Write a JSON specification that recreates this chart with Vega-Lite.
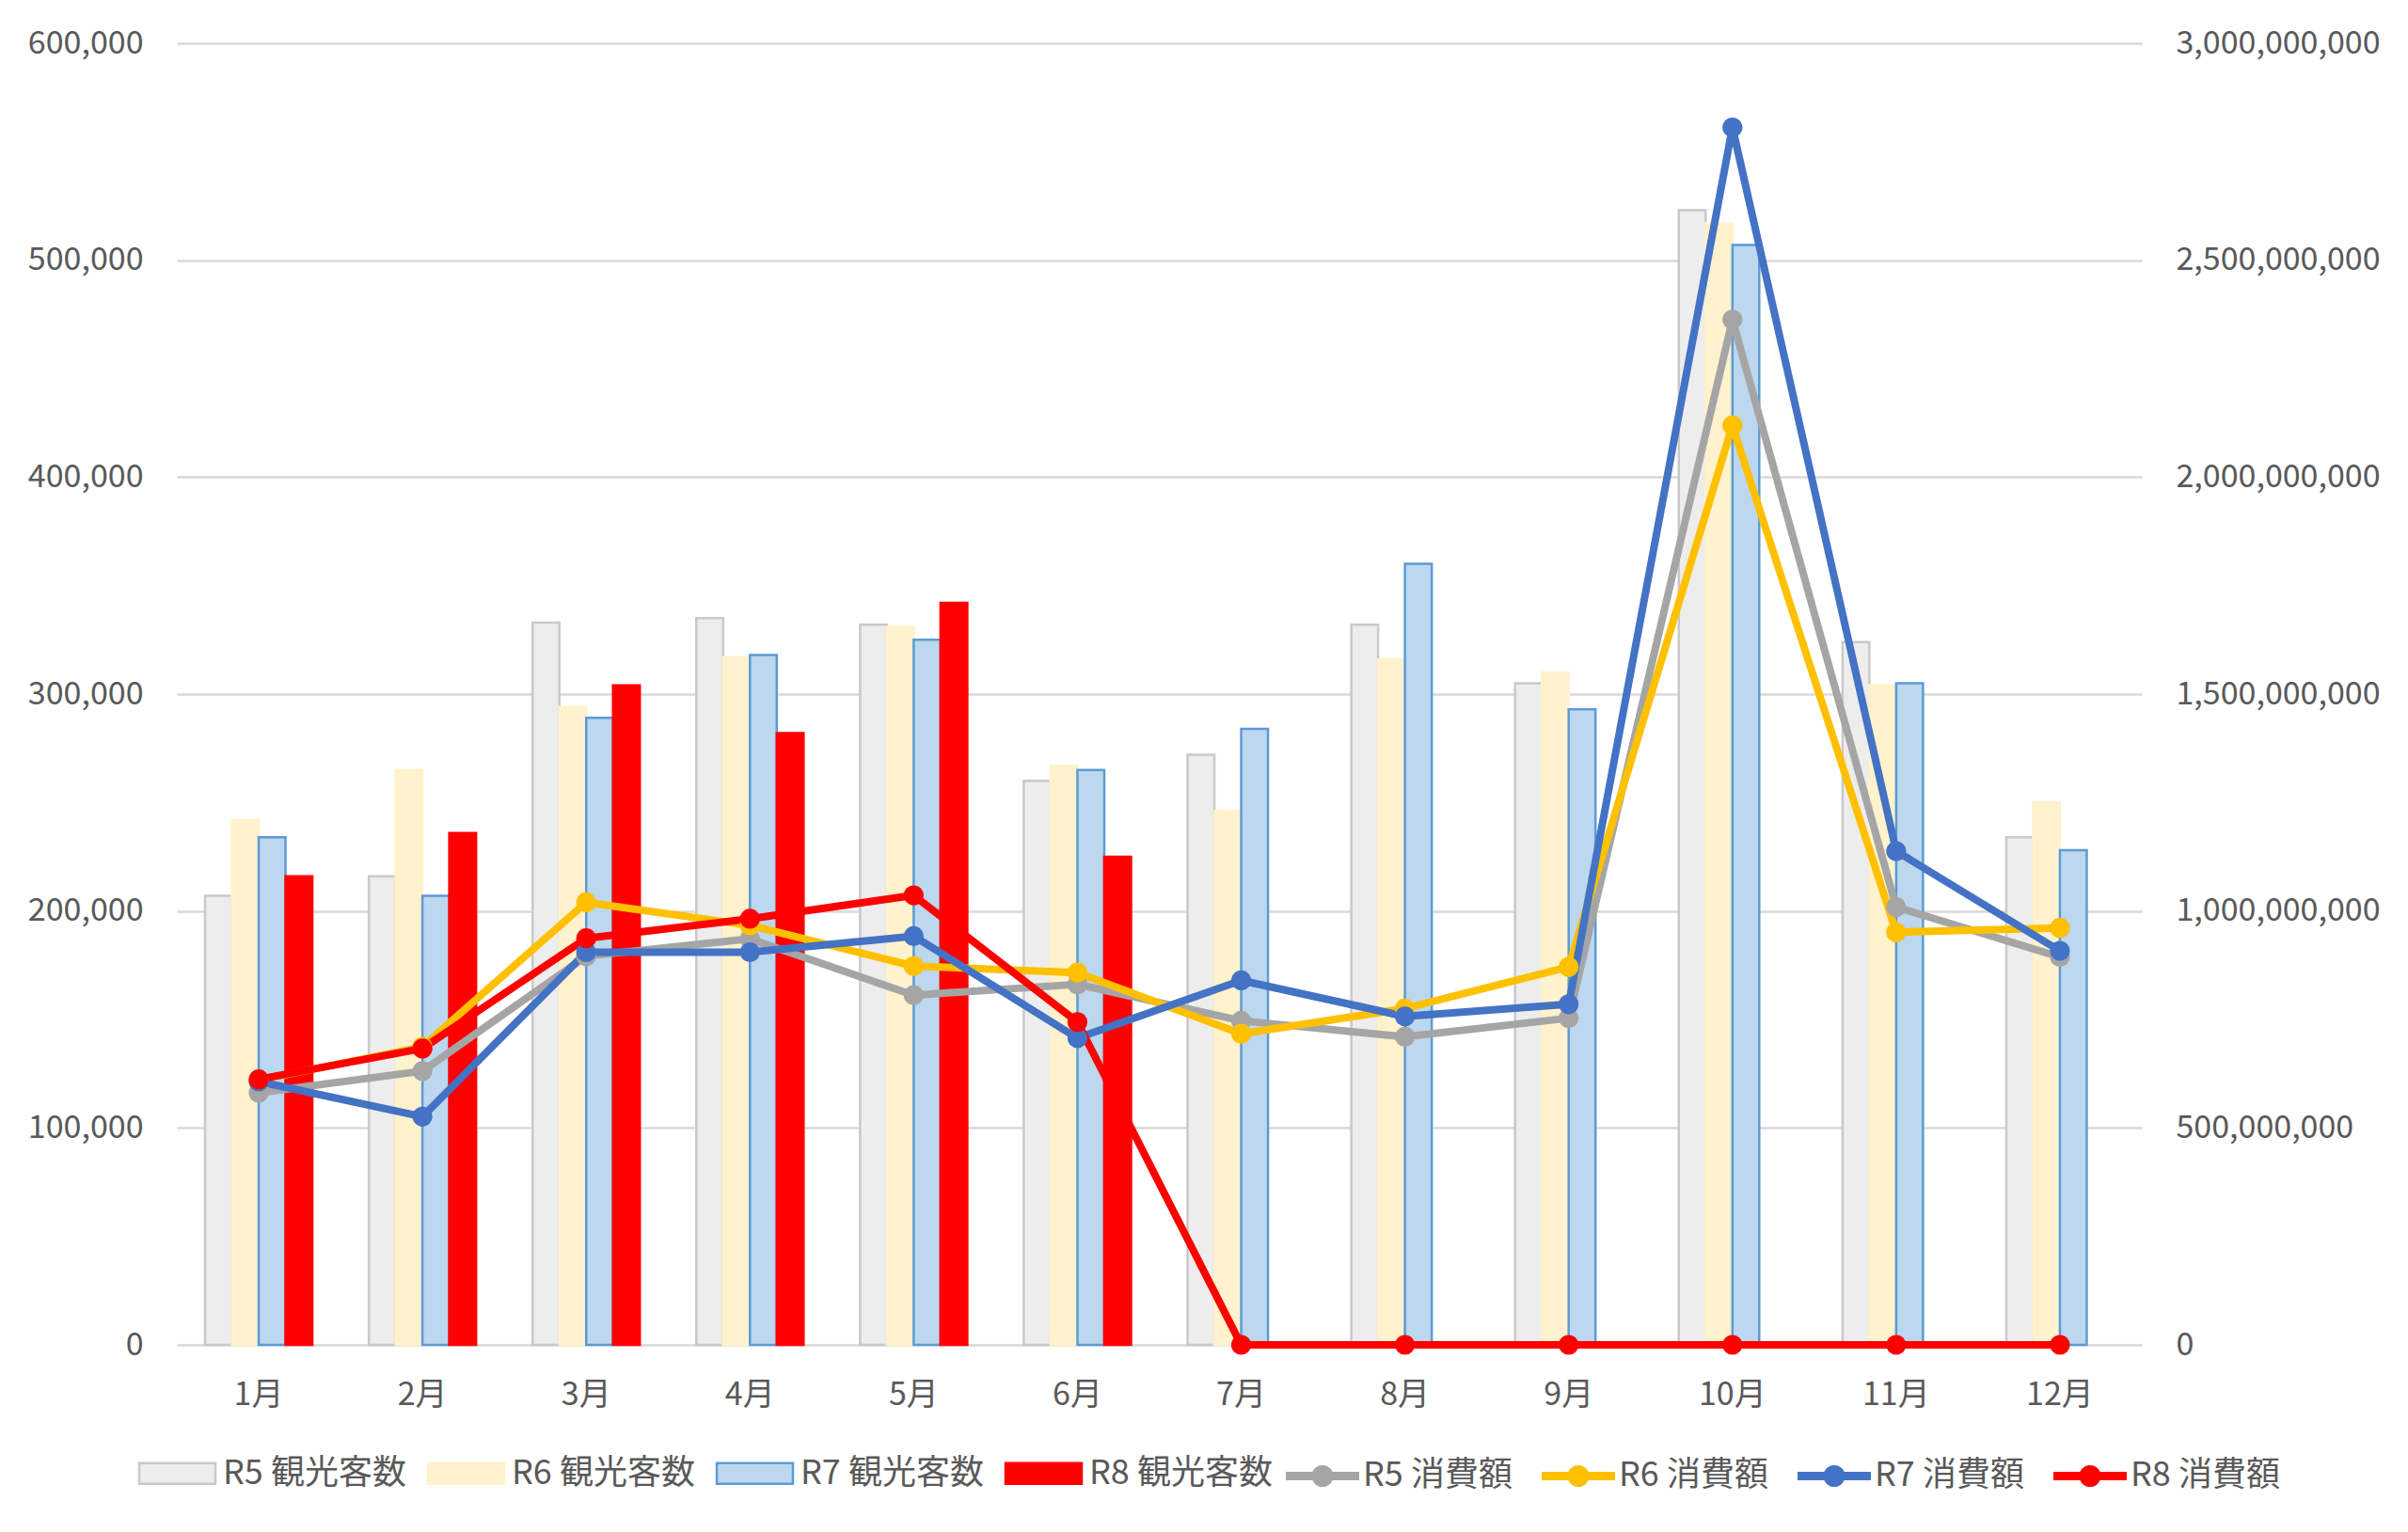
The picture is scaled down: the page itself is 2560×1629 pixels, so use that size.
{
  "$schema": "https://vega.github.io/schema/vega-lite/v6.json",
  "width": 2089,
  "height": 1384,
  "autosize": {"type": "none"},
  "padding": {"left": 188, "top": 46, "right": 283, "bottom": 199},
  "background": "white",
  "config": {
    "view": {"stroke": null},
    "font": "Noto Sans CJK JP",
    "axis": {"labelFont": "Noto Sans CJK JP", "labelFontSize": 34, "labelColor": "#595959", "labelLimit": 400, "domain": false, "ticks": false},
    "legend": {"labelFont": "Noto Sans CJK JP", "labelFontSize": 36, "labelColor": "#595959", "labelLimit": 400, "title": null}
  },
  "datasets": {
    "visitors": [
      {"m": "1月", "s": "R5 観光客数", "v": 207000}, {"m": "1月", "s": "R6 観光客数", "v": 242000}, {"m": "1月", "s": "R7 観光客数", "v": 234000}, {"m": "1月", "s": "R8 観光客数", "v": 216000},
      {"m": "2月", "s": "R5 観光客数", "v": 216000}, {"m": "2月", "s": "R6 観光客数", "v": 265000}, {"m": "2月", "s": "R7 観光客数", "v": 207000}, {"m": "2月", "s": "R8 観光客数", "v": 236000},
      {"m": "3月", "s": "R5 観光客数", "v": 333000}, {"m": "3月", "s": "R6 観光客数", "v": 294000}, {"m": "3月", "s": "R7 観光客数", "v": 289000}, {"m": "3月", "s": "R8 観光客数", "v": 304000},
      {"m": "4月", "s": "R5 観光客数", "v": 335000}, {"m": "4月", "s": "R6 観光客数", "v": 317000}, {"m": "4月", "s": "R7 観光客数", "v": 318000}, {"m": "4月", "s": "R8 観光客数", "v": 282000},
      {"m": "5月", "s": "R5 観光客数", "v": 332000}, {"m": "5月", "s": "R6 観光客数", "v": 331000}, {"m": "5月", "s": "R7 観光客数", "v": 325000}, {"m": "5月", "s": "R8 観光客数", "v": 342000},
      {"m": "6月", "s": "R5 観光客数", "v": 260000}, {"m": "6月", "s": "R6 観光客数", "v": 267000}, {"m": "6月", "s": "R7 観光客数", "v": 265000}, {"m": "6月", "s": "R8 観光客数", "v": 225000},
      {"m": "7月", "s": "R5 観光客数", "v": 272000}, {"m": "7月", "s": "R6 観光客数", "v": 246000}, {"m": "7月", "s": "R7 観光客数", "v": 284000},
      {"m": "8月", "s": "R5 観光客数", "v": 332000}, {"m": "8月", "s": "R6 観光客数", "v": 316000}, {"m": "8月", "s": "R7 観光客数", "v": 360000},
      {"m": "9月", "s": "R5 観光客数", "v": 305000}, {"m": "9月", "s": "R6 観光客数", "v": 310000}, {"m": "9月", "s": "R7 観光客数", "v": 293000},
      {"m": "10月", "s": "R5 観光客数", "v": 523000}, {"m": "10月", "s": "R6 観光客数", "v": 517000}, {"m": "10月", "s": "R7 観光客数", "v": 507000},
      {"m": "11月", "s": "R5 観光客数", "v": 324000}, {"m": "11月", "s": "R6 観光客数", "v": 304000}, {"m": "11月", "s": "R7 観光客数", "v": 305000},
      {"m": "12月", "s": "R5 観光客数", "v": 234000}, {"m": "12月", "s": "R6 観光客数", "v": 250000}, {"m": "12月", "s": "R7 観光客数", "v": 228000}
    ],
    "spending": [
      {"m": "1月", "s": "R5 消費額", "v": 581000000}, {"m": "2月", "s": "R5 消費額", "v": 631000000}, {"m": "3月", "s": "R5 消費額", "v": 896000000}, {"m": "4月", "s": "R5 消費額", "v": 936000000},
      {"m": "5月", "s": "R5 消費額", "v": 806000000}, {"m": "6月", "s": "R5 消費額", "v": 831000000}, {"m": "7月", "s": "R5 消費額", "v": 747000000}, {"m": "8月", "s": "R5 消費額", "v": 710000000},
      {"m": "9月", "s": "R5 消費額", "v": 753000000}, {"m": "10月", "s": "R5 消費額", "v": 2363000000}, {"m": "11月", "s": "R5 消費額", "v": 1009000000}, {"m": "12月", "s": "R5 消費額", "v": 894000000},
      {"m": "1月", "s": "R6 消費額", "v": 610000000}, {"m": "2月", "s": "R6 消費額", "v": 687000000}, {"m": "3月", "s": "R6 消費額", "v": 1020000000}, {"m": "4月", "s": "R6 消費額", "v": 967000000},
      {"m": "5月", "s": "R6 消費額", "v": 873000000}, {"m": "6月", "s": "R6 消費額", "v": 858000000}, {"m": "7月", "s": "R6 消費額", "v": 717000000}, {"m": "8月", "s": "R6 消費額", "v": 775000000},
      {"m": "9月", "s": "R6 消費額", "v": 871000000}, {"m": "10月", "s": "R6 消費額", "v": 2119000000}, {"m": "11月", "s": "R6 消費額", "v": 951000000}, {"m": "12月", "s": "R6 消費額", "v": 961000000},
      {"m": "1月", "s": "R7 消費額", "v": 607000000}, {"m": "2月", "s": "R7 消費額", "v": 526000000}, {"m": "3月", "s": "R7 消費額", "v": 905000000}, {"m": "4月", "s": "R7 消費額", "v": 905000000},
      {"m": "5月", "s": "R7 消費額", "v": 942000000}, {"m": "6月", "s": "R7 消費額", "v": 707000000}, {"m": "7月", "s": "R7 消費額", "v": 840000000}, {"m": "8月", "s": "R7 消費額", "v": 757000000},
      {"m": "9月", "s": "R7 消費額", "v": 785000000}, {"m": "10月", "s": "R7 消費額", "v": 2806000000}, {"m": "11月", "s": "R7 消費額", "v": 1138000000}, {"m": "12月", "s": "R7 消費額", "v": 908000000},
      {"m": "1月", "s": "R8 消費額", "v": 612000000}, {"m": "2月", "s": "R8 消費額", "v": 683000000}, {"m": "3月", "s": "R8 消費額", "v": 937000000}, {"m": "4月", "s": "R8 消費額", "v": 982000000},
      {"m": "5月", "s": "R8 消費額", "v": 1036000000}, {"m": "6月", "s": "R8 消費額", "v": 744000000}, {"m": "7月", "s": "R8 消費額", "v": 0}, {"m": "8月", "s": "R8 消費額", "v": 0},
      {"m": "9月", "s": "R8 消費額", "v": 0}, {"m": "10月", "s": "R8 消費額", "v": 0}, {"m": "11月", "s": "R8 消費額", "v": 0}, {"m": "12月", "s": "R8 消費額", "v": 0}
    ]
  },
  "encoding": {
    "x": {
      "field": "m",
      "type": "nominal",
      "title": null,
      "scale": {"domain": ["1月", "2月", "3月", "4月", "5月", "6月", "7月", "8月", "9月", "10月", "11月", "12月"], "paddingInner": 0.345, "paddingOuter": 0.1725},
      "axis": {"labelAngle": 0, "labelPadding": 36, "grid": false}
    }
  },
  "layer": [
    {
      "data": {"name": "visitors"},
      "mark": {"type": "bar", "strokeWidth": 2.5},
      "encoding": {
        "xOffset": {"field": "s", "type": "nominal", "scale": {"domain": ["R5 観光客数", "R6 観光客数", "R7 観光客数", "R8 観光客数"], "paddingInner": 0, "paddingOuter": 0}},
        "y": {
          "field": "v",
          "type": "quantitative",
          "title": null,
          "scale": {"domain": [0, 600000]},
          "axis": {"orient": "left", "values": [0, 100000, 200000, 300000, 400000, 500000, 600000], "format": ",d", "labelPadding": 36, "grid": true, "gridColor": "#d9d9d9", "gridWidth": 2.5}
        },
        "fill": {
          "field": "s",
          "type": "nominal",
          "scale": {"domain": ["R5 観光客数", "R6 観光客数", "R7 観光客数", "R8 観光客数"], "range": ["#ededed", "#fff2cc", "#bdd7ee", "#ff0000"]},
          "legend": {
            "orient": "none",
            "legendX": -43,
            "legendY": 1477,
            "direction": "horizontal",
            "columns": 4,
            "symbolType": "M-0.964,-0.262H0.964V0.262H-0.964Z",
            "symbolSize": 7056,
            "symbolStrokeWidth": 2.5,
            "labelOffset": 5,
            "columnPadding": 18
          }
        },
        "stroke": {
          "field": "s",
          "type": "nominal",
          "scale": {"domain": ["R5 観光客数", "R6 観光客数", "R7 観光客数", "R8 観光客数"], "range": ["#c9c9c9", "#fff2cc", "#5b9bd5", "#ff0000"]}
        }
      }
    },
    {
      "data": {"name": "spending"},
      "encoding": {
        "y": {
          "field": "v",
          "type": "quantitative",
          "title": null,
          "scale": {"domain": [0, 3000000000]},
          "axis": {"orient": "right", "values": [0, 500000000, 1000000000, 1500000000, 2000000000, 2500000000, 3000000000], "format": ",d", "labelPadding": 36, "grid": false}
        }
      },
      "layer": [
        {
          "mark": {"type": "line", "strokeWidth": 8, "strokeJoin": "round"},
          "encoding": {
            "stroke": {
              "field": "s",
              "type": "nominal",
              "scale": {"domain": ["R5 消費額", "R6 消費額", "R7 消費額", "R8 消費額"], "range": ["#a5a5a5", "#ffc000", "#4472c4", "#ff0000"]},
              "legend": {
                "orient": "none",
                "legendX": 1170,
                "legendY": 1475,
                "direction": "horizontal",
                "columns": 4,
                "symbolType": "M-0.897,0H0.897M-0.161,0A0.161,0.161 0 1,1 0.161,0A0.161,0.161 0 1,1 -0.161,0Z",
                "symbolSize": 7569,
                "symbolStrokeWidth": 9,
                "labelOffset": -5,
                "columnPadding": 12
              }
            }
          }
        },
        {
          "mark": {"type": "point", "filled": true, "size": 450, "opacity": 1},
          "encoding": {
            "fill": {
              "field": "s",
              "type": "nominal",
              "scale": {"domain": ["R5 消費額", "R6 消費額", "R7 消費額", "R8 消費額"], "range": ["#a5a5a5", "#ffc000", "#4472c4", "#ff0000"]}
            }
          }
        }
      ]
    }
  ],
  "resolve": {"scale": {"y": "independent", "fill": "independent", "stroke": "independent"}}
}
